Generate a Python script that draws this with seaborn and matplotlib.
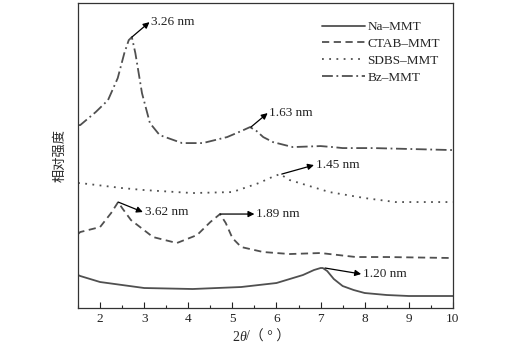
import matplotlib
matplotlib.use("Agg")
import matplotlib.pyplot as plt
from matplotlib.ticker import MultipleLocator, NullLocator
import seaborn as sns
import pandas as pd

sns.set_theme(style="white")
plt.rcParams['font.family'] = ['Liberation Serif', 'Noto Sans CJK SC']

# data (intensity in arbitrary units)
na_x = [1.5, 1.55, 2.0, 3.0, 4.1, 5.2, 6.0, 6.6, 6.85, 7.0, 7.05, 7.15, 7.3, 7.5, 7.75, 8.0, 8.5, 9.0, 10.0]
na_y = [33, 32, 26, 20, 19, 21, 25, 33, 38, 40, 40, 37, 29, 22, 18, 15, 13, 12, 12]

ctab_x = [1.5, 1.55, 2.0, 2.25, 2.41, 2.5, 2.7, 3.2, 3.74, 4.2, 4.5, 4.72, 4.85, 5.0, 5.2, 5.7, 6.3, 7.0, 7.8, 8.5, 10.0]
ctab_y = [74, 76, 81, 95, 106, 100, 88, 71, 65, 73, 86, 94, 85, 70, 61, 56, 54, 55, 51, 51, 50]

sdbs_x = [1.5, 1.55, 2.5, 3.0, 4.1, 5.0, 5.6, 5.9, 6.08, 6.3, 6.6, 7.2, 8.0, 8.7, 10.0]
sdbs_y = [125, 125, 120, 118, 115, 116, 125, 131, 134, 128, 124, 116, 110, 106, 106]

bz_x = [1.5, 1.55, 1.9, 2.18, 2.4, 2.55, 2.65, 2.72, 2.8, 2.95, 3.13, 3.35, 3.86, 4.33, 4.88, 5.2, 5.4, 5.55, 5.7, 5.92, 6.37, 7.0, 7.28, 7.5, 8.2, 10.0]
bz_y = [183, 183, 196, 208, 230, 255, 268, 271, 255, 215, 185, 173, 165, 165, 171, 177, 181, 177, 171, 166, 161, 162, 161, 160, 160, 158]

labels = ["Na\u2013MMT", "CTAB\u2013MMT", "SDBS\u2013MMT", "Bz\u2013MMT"]
series_x = [na_x, ctab_x, sdbs_x, bz_x]
series_y = [na_y, ctab_y, sdbs_y, bz_y]
styles = ["-", (0, (4, 2.5)), (0, (1, 3)), (0, (6, 2, 1, 2))]

# annotations: peak point, arrow head / text anchor, text
ann_pts = [(7.1, 40), (2.41, 106), (4.72, 94), (6.12, 134), (2.72, 271), (5.42, 181)]
ann_txt = [(7.92, 34), (2.97, 96), (5.5, 94), (6.85, 143), (3.12, 286), (5.8, 195)]
ann_lbl = ["1.20 nm", "3.62 nm", "1.89 nm", "1.45 nm", "3.26 nm", "1.63 nm"]

fig = plt.figure(figsize=(5.1, 3.5), dpi=100)
ax = fig.add_axes([0.153, 0.12, 0.735, 0.871])
color = "#505050"
for x, y, lab, ls in zip(series_x, series_y, labels, styles):
    df = pd.DataFrame({"x": x, "y": y})
    sns.lineplot(data=df, x="x", y="y", ax=ax, color=color, linestyle=ls,
                 linewidth=1.3, label=lab, sort=False)

for (px, py), (tx, ty), t in zip(ann_pts, ann_txt, ann_lbl):
    ax.annotate("", xy=(tx, ty), xytext=(px, py),
                arrowprops=dict(arrowstyle="-|>", color="black", lw=0.9,
                                mutation_scale=9, shrinkA=0, shrinkB=0))
    ax.text(tx + 0.04, ty, t, fontsize=9.5, va="center", ha="left", color="#222222")

ax.set_xlim(1.5, 10)
ax.set_ylim(0, 305)
ax.xaxis.set_major_locator(MultipleLocator(1))
ax.xaxis.set_minor_locator(MultipleLocator(0.5))
ax.yaxis.set_major_locator(NullLocator())
ax.tick_params(axis="x", which="major", direction="in", length=4, width=0.8,
               labelsize=9.5, bottom=True, top=False, colors="#222222")
ax.tick_params(axis="x", which="minor", direction="in", length=2.5, width=0.8,
               bottom=True, top=False)
for s in ax.spines.values():
    s.set_color("#333333")
    s.set_linewidth(0.9)
ax.set_xlabel("")
ax.set_ylabel("相对强度", fontsize=9.5, labelpad=8)
# x label with italic theta
fig.text(0.455, 0.018, "2", fontsize=10, ha="left", va="bottom")
fig.text(0.4685, 0.018, "θ", fontsize=10, ha="left", va="bottom", fontstyle="italic")
fig.text(0.483, 0.018, "/（ ° ）", fontsize=10, ha="left", va="bottom")
ax.legend(loc="upper right", frameon=False, fontsize=9.5, handlelength=3.2,
          handletextpad=0.2, labelspacing=0.35, borderaxespad=0.6,
          bbox_to_anchor=(1.0, 0.985))
fig.savefig("out.png", dpi=100)
